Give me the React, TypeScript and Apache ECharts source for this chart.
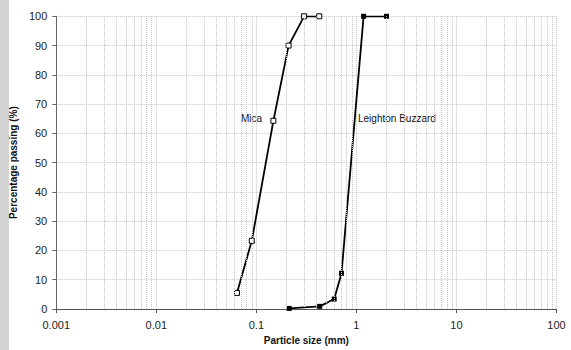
import React, { useEffect, useRef } from "react";
import * as echarts from "echarts";

const micaSize = [0.064, 0.09, 0.148, 0.21, 0.3, 0.425];
const micaPass = [5.5, 23.3, 64.3, 90, 100, 100];
const lbSize = [0.213, 0.43, 0.6, 0.71, 1.18, 2.0];
const lbPass = [0.2, 0.9, 3.4, 12.2, 100, 100];

const gridDecades = [0.001, 0.01, 0.1, 1, 10];
const gridMultipliers = [2, 3, 4, 5, 6, 7, 8, 9];
const yRange = [0, 100];

const seriesLabels = ["Mica", "Leighton Buzzard"];

const fmt = (v: number) => String(parseFloat(Number(v).toPrecision(6)));

export default function App() {
  const ref = useRef<HTMLDivElement>(null);
  useEffect(() => {
    document.body.style.margin = "0";
    const chart = echarts.init(ref.current!, null, { renderer: "svg" });
    const minorLines: any[] = [];
    gridDecades.forEach((d) =>
      gridMultipliers.forEach((m) => {
        const v = parseFloat((d * m).toPrecision(6));
        minorLines.push([{ coord: [v, yRange[0]] }, { coord: [v, yRange[1]] }]);
      })
    );
    const font = "Liberation Sans, Arial, sans-serif";
    const gridStyle = { type: [1, 1], color: "#c4c4c4", width: 1 };
    chart.setOption({
      animation: false,
      backgroundColor: "#fff",
      textStyle: { fontFamily: font },
      grid: { left: 54, right: 14.5, top: 16.3, bottom: 36.7 },
      graphic: [
        {
          type: "rect",
          left: 0,
          top: 0,
          shape: { width: 9, height: 350 },
          style: { fill: "#d3d3d3" },
          silent: true,
        },
        {
          type: "text",
          left: 241,
          top: 113,
          style: { text: seriesLabels[0], fontSize: 10, fill: "#111", fontFamily: font },
        },
        {
          type: "text",
          left: 358,
          top: 113,
          style: { text: seriesLabels[1], fontSize: 10, fill: "#111", fontFamily: font },
        },
      ],
      xAxis: {
        type: "log",
        logBase: 10,
        min: 0.001,
        max: 100,
        name: "Particle size (mm)",
        nameLocation: "middle",
        nameGap: 26,
        nameTextStyle: { fontSize: 10, fontWeight: "bold", color: "#111", fontFamily: font },
        axisLine: { lineStyle: { color: "#555", width: 1 } },
        axisTick: { show: true, length: 4, lineStyle: { color: "#555" } },
        axisLabel: { fontSize: 11, color: "#222", margin: 10, formatter: (v: number) => fmt(v) },
        splitLine: { show: true, lineStyle: gridStyle },
        minorTick: { show: false },
        minorSplitLine: { show: false },
      },
      yAxis: {
        type: "value",
        min: yRange[0],
        max: yRange[1],
        interval: 10,
        name: "Percentage passing (%)",
        nameLocation: "middle",
        nameGap: 27,
        nameTextStyle: { fontSize: 10, fontWeight: "bold", color: "#111", fontFamily: font },
        axisLine: { show: true, lineStyle: { color: "#666", width: 1 } },
        axisTick: { show: true, length: 4, lineStyle: { color: "#666" } },
        axisLabel: { fontSize: 11, color: "#222", margin: 9 },
        splitLine: { show: true, lineStyle: gridStyle },
      },
      series: [
        {
          type: "line",
          data: [],
          z: 1,
          silent: true,
          markLine: {
            silent: true,
            symbol: "none",
            label: { show: false },
            lineStyle: gridStyle,
            emphasis: { disabled: true },
            data: minorLines,
          },
        },
        {
          name: seriesLabels[0],
          type: "line",
          z: 3,
          data: micaSize.map((x, i) => [x, micaPass[i]]),
          symbol: "rect",
          symbolSize: 5,
          showAllSymbol: true,
          lineStyle: { color: "#000", width: 1.8 },
          itemStyle: { color: "#fff", borderColor: "#000", borderWidth: 1 },
        },
        {
          name: seriesLabels[1],
          type: "line",
          z: 3,
          data: lbSize.map((x, i) => [x, lbPass[i]]),
          symbol: "rect",
          symbolSize: 5,
          showAllSymbol: true,
          lineStyle: { color: "#000", width: 1.8 },
          itemStyle: { color: "#000", borderColor: "#000", borderWidth: 0 },
        },
      ],
    });
    return () => chart.dispose();
  }, []);
  return <div ref={ref} style={{ width: 571, height: 350 }} />;
}
